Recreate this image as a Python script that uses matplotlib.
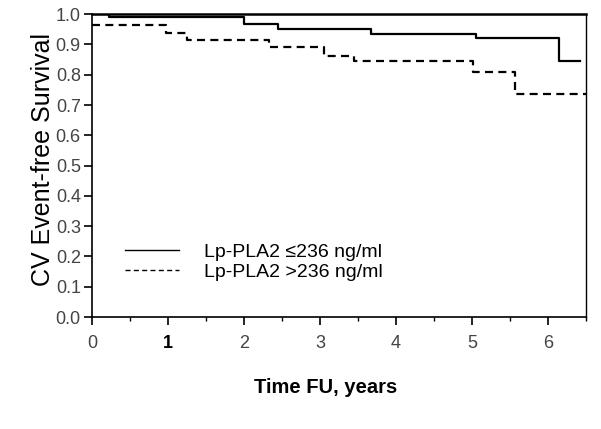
import numpy as np
import matplotlib
matplotlib.use("Agg")
import matplotlib.pyplot as plt
from matplotlib.ticker import MultipleLocator

plt.rcParams['font.family'] = ['Liberation Sans', 'DejaVu Sans']

# Kaplan-Meier steps (time in years, survival)
low_t = [0.0, 0.22, 2.0, 2.45, 3.67, 5.05, 6.15, 6.42]
low_s = [1.0, 0.992, 0.967, 0.950, 0.935, 0.920, 0.845, 0.845]
high_t = [0.0, 0.97, 1.25, 2.33, 3.05, 3.45, 5.02, 5.57, 6.5]
high_s = [0.963, 0.937, 0.915, 0.89, 0.863, 0.845, 0.81, 0.735, 0.735]

labels = ['Lp-PLA2 \u2264236 ng/ml', 'Lp-PLA2 >236 ng/ml']

fig = plt.figure(figsize=(6.01, 4.29), dpi=100)
ax = fig.add_axes([0.153, 0.261, 0.822, 0.706])

ax.step(low_t, low_s, where='post', color='black', lw=1.6, label=labels[0])
l2, = ax.step(high_t, high_s, where='post', color='black', lw=1.6, label=labels[1])
l2.set_dashes((3.6, 2.4))

ax.set_xlim(0, 6.5)
ax.set_ylim(0, 1.0)
ax.set_xticks(range(7))
ax.xaxis.set_minor_locator(MultipleLocator(0.5))
ax.set_yticks(np.arange(0, 1.01, 0.1))
ax.set_yticklabels(['%.1f' % v for v in np.arange(0, 1.01, 0.1)])
ax.tick_params(axis='both', direction='out', length=6, width=1.2, labelsize=13,
               labelcolor='#444444')
ax.tick_params(axis='y', pad=2)
ax.tick_params(axis='x', which='minor', direction='out', length=3, width=1.0)
ax.tick_params(axis='x', pad=7)
for t in ax.get_xticklabels():
    if t.get_text() == '1':
        t.set_fontweight('bold')
        t.set_color('black')

for sp in ax.spines.values():
    sp.set_linewidth(1.2)
ax.spines['top'].set_linewidth(1.8)
ax.spines['right'].set_linewidth(1.0)

ax.set_ylabel('CV Event-free Survival', fontsize=18)
ax.yaxis.set_label_coords(-0.075, 0.52)
ax.set_xlabel('Time FU, years', fontsize=14.5, fontweight='bold')
ax.xaxis.set_label_coords(0.474, -0.2)

leg = ax.legend(loc='lower left', bbox_to_anchor=(0.067, 0.118), frameon=False,
                fontsize=14, handlelength=2.8, handletextpad=1.25,
                labelspacing=0.15, borderpad=0, borderaxespad=0)
for h in leg.get_lines():
    h.set_linewidth(1.0)

fig.savefig('out.png', dpi=100)
